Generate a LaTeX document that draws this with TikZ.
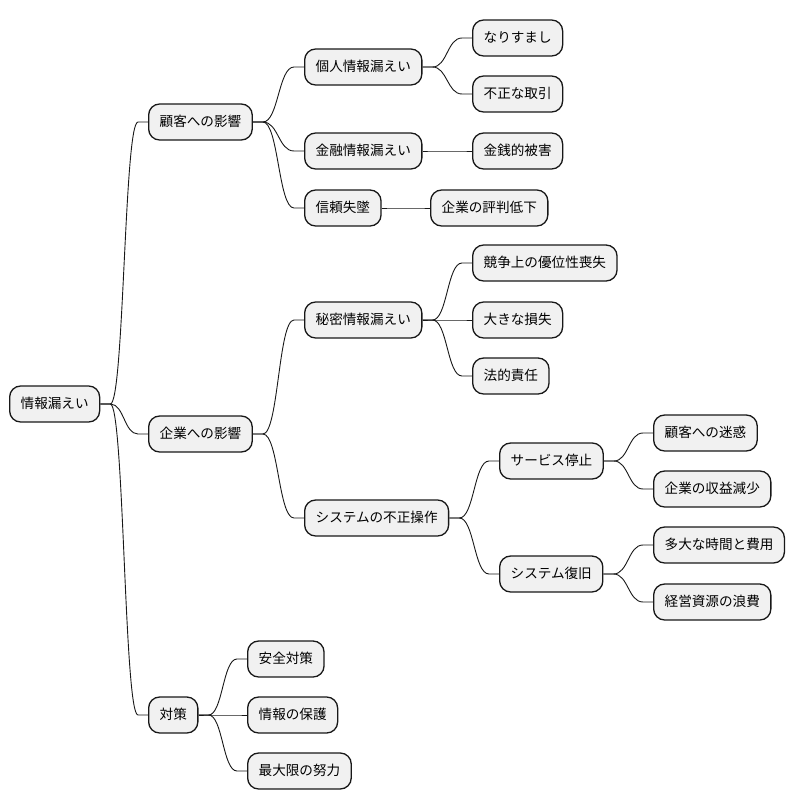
\documentclass[tikz,border=0pt]{standalone}
\usepackage{fontspec}
\newfontfamily\jp{Noto Sans CJK JP}
\usetikzlibrary{calc}
\definecolor{nodefill}{HTML}{F1F1F1}
\definecolor{nodeline}{HTML}{181818}
\tikzset{
  mmnode/.style={draw=nodeline, fill=nodefill, line width=1.3pt, rounded corners=11pt,
    anchor=west, minimum height=36pt, inner xsep=11pt, inner ysep=0pt,
    text height=11pt, text depth=2.6pt, font=\jp\fontsize{13.6pt}{16pt}\selectfont},
  link/.style={draw=nodeline, line width=0.9pt}
}
\newcommand\mmlink[2]{%
  \path (#1.east) ++(10pt,0) coordinate (la);
  \path (#2.west) ++(-10pt,0) coordinate (lb);
  \coordinate (lm) at ($(la)!0.5!(lb)$);
  \draw[link] (#1.east) -- (la) .. controls (lm |- la) and (lm |- lb) .. (lb) -- (#2.west);
}
\begin{document}
\begin{tikzpicture}[x=1pt,y=-1pt]
\useasboundingbox (0,0) rectangle (796,809);
\node[mmnode] (root) at (9,404) {情報漏えい};
\node[mmnode] (c1) at (148,122) {顧客への影響};
\node[mmnode] (c2) at (148,434) {企業への影響};
\node[mmnode] (c3) at (148,715) {対策};
\node[mmnode] (c11) at (304,67) {個人情報漏えい};
\node[mmnode] (c12) at (304,151) {金融情報漏えい};
\node[mmnode] (c13) at (304,208) {信頼失墜};
\node[mmnode] (c111) at (472,38) {なりすまし};
\node[mmnode] (c112) at (472,94) {不正な取引};
\node[mmnode] (c121) at (472,151) {金銭的被害};
\node[mmnode] (c131) at (430,208) {企業の評判低下};
\node[mmnode] (c21) at (304,320) {秘密情報漏えい};
\node[mmnode] (c211) at (472,263) {競争上の優位性喪失};
\node[mmnode] (c212) at (472,320) {大きな損失};
\node[mmnode] (c213) at (472,376) {法的責任};
\node[mmnode] (c22) at (304,518) {システムの不正操作};
\node[mmnode] (c221) at (499,461) {サービス停止};
\node[mmnode] (c222) at (499,574) {システム復旧};
\node[mmnode] (c2211) at (653,433) {顧客への迷惑};
\node[mmnode] (c2212) at (653,489) {企業の収益減少};
\node[mmnode] (c2221) at (653,545) {多大な時間と費用};
\node[mmnode] (c2222) at (653,602) {経営資源の浪費};
\node[mmnode] (c31) at (247,659) {安全対策};
\node[mmnode] (c32) at (247,715) {情報の保護};
\node[mmnode] (c33) at (247,771) {最大限の努力};
\mmlink{root}{c1}
\mmlink{root}{c2}
\mmlink{root}{c3}
\mmlink{c1}{c11}
\mmlink{c1}{c12}
\mmlink{c1}{c13}
\mmlink{c11}{c111}
\mmlink{c11}{c112}
\mmlink{c12}{c121}
\mmlink{c13}{c131}
\mmlink{c2}{c21}
\mmlink{c2}{c22}
\mmlink{c21}{c211}
\mmlink{c21}{c212}
\mmlink{c21}{c213}
\mmlink{c22}{c221}
\mmlink{c22}{c222}
\mmlink{c221}{c2211}
\mmlink{c221}{c2212}
\mmlink{c222}{c2221}
\mmlink{c222}{c2222}
\mmlink{c3}{c31}
\mmlink{c3}{c32}
\mmlink{c3}{c33}
\end{tikzpicture}
\end{document}
